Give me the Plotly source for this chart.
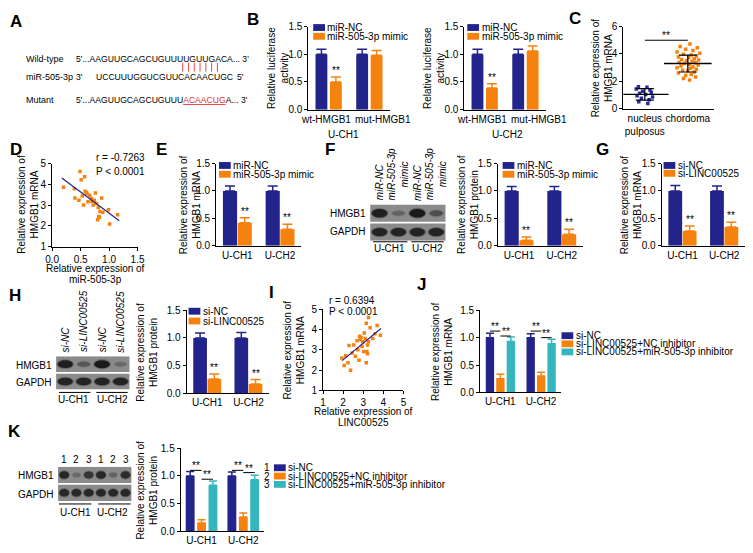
import plotly.graph_objects as go

W, H = 753, 553
def PX(x): return x / W
def PY(y): return 1 - y / H

FONT = "Liberation Sans, Arial, sans-serif"
NAVY = "#23238c"
ORANGE = "#f6820e"
CYAN = "#35b6bf"
NPBLUE = "#2a2aa0"

# ---------------- data ----------------
mir_names = ["miR-NC", "miR-505-3p mimic"]
si_names = ["si-NC", "si-LINC00525"]
rescue_names = ["si-NC", "si-LINC00525+NC inhibitor", "si-LINC00525+miR-505-3p inhibitor"]
cell_cats = ["U-CH1", "U-CH2"]

b_cats = ["wt-HMGB1", "mut-HMGB1"]
b1_nc = [1.00, 1.00]; b1_nc_err = [0.09, 0.09]
b1_mimic = [0.50, 0.98]; b1_mimic_err = [0.09, 0.09]
b2_nc = [1.00, 1.00]; b2_nc_err = [0.09, 0.09]
b2_mimic = [0.39, 1.06]; b2_mimic_err = [0.08, 0.09]

c_cats = ["nucleus<br>pulposus", "chordoma"]
c_np = [1.60, 1.56, 1.44, 1.37, 1.28, 1.20, 1.13, 1.04, 0.94, 0.85, 0.76, 0.66, 0.50, 0.38]
c_np_jit = [-0.15, 0.05, -0.20, 0.12, -0.05, 0.15, -0.12, 0.02, -0.18, 0.18, -0.08, 0.10, -0.14, 0.07]
c_ch = [4.72, 4.55, 4.45, 4.35, 4.25, 4.15, 4.05, 3.98, 3.92, 3.85, 3.78, 3.72, 3.65, 3.60, 3.55, 3.50,
        3.45, 3.40, 3.35, 3.30, 3.25, 3.20, 3.12, 3.05, 3.00, 2.95, 2.88, 2.80, 2.75, 2.68, 2.60, 2.50,
        2.42, 2.32, 2.20, 2.10]
c_ch_jit = [0.05, -0.18, 0.22, -0.05, 0.12, -0.25, 0.28, -0.10, 0.08, 0.20, -0.22, 0.02, 0.15, -0.14, 0.25, -0.03,
            0.10, -0.20, 0.18, -0.08, 0.03, 0.24, -0.16, 0.12, -0.25, 0.06, 0.20, -0.12, 0.00, 0.15, -0.22, 0.08,
            -0.05, 0.18, -0.10, 0.04]
c_mean = [1.05, 3.30]
c_sd = [0.42, 0.62]

d_x = [0.20, 0.49, 0.57, 0.51, 0.40, 0.39, 0.47, 0.55, 0.58, 0.61, 0.60, 0.66, 0.69, 0.70, 0.76, 0.74,
       0.72, 0.78, 0.81, 0.87, 0.84, 0.89, 0.82, 0.80, 0.83, 0.99, 1.01, 1.15, 0.63, 0.53]
d_y = [3.86, 4.61, 4.36, 4.22, 3.34, 3.78, 3.23, 3.00, 3.66, 3.55, 3.60, 3.47, 3.31, 3.19, 3.58, 3.23,
       3.00, 3.08, 2.88, 3.34, 2.69, 2.66, 2.45, 2.30, 2.41, 2.77, 2.09, 2.53, 3.16, 3.44]
d_fit_x = [0.17, 1.18]
d_fit_y = [4.30, 2.25]

e_nc = [1.00, 1.00]; e_nc_err = [0.09, 0.09]
e_mimic = [0.42, 0.30]; e_mimic_err = [0.09, 0.09]

f_lanes = ["miR-NC", "miR-505-3p<br>mimic", "miR-NC", "miR-505-3p<br>mimic"]
f_hmgb1 = [0.95, 0.30, 1.00, 0.45]
f_gapdh = [0.90, 0.90, 0.90, 0.90]
f_nc = [1.00, 1.00]; f_nc_err = [0.08, 0.08]
f_mimic = [0.10, 0.21]; f_mimic_err = [0.06, 0.09]

g_nc = [1.00, 1.00]; g_nc_err = [0.10, 0.09]
g_si = [0.27, 0.34]; g_si_err = [0.09, 0.09]

h_lanes = ["si-NC", "si-LINC00525", "si-NC", "si-LINC00525"]
h_hmgb1 = [0.95, 0.40, 1.00, 0.25]
h_gapdh = [0.90, 0.90, 0.90, 0.90]
h_nc = [1.00, 1.00]; h_nc_err = [0.09, 0.10]
h_si = [0.26, 0.17]; h_si_err = [0.09, 0.08]

i_x = [1.94, 2.13, 2.05, 2.24, 2.37, 2.29, 2.45, 2.53, 2.61, 2.69, 2.73, 2.82, 2.79, 2.89, 2.94, 2.98,
       3.05, 3.02, 3.10, 3.15, 3.18, 3.21, 3.21, 3.15, 3.26, 3.34, 3.47, 3.58, 3.69, 3.85, 3.26, 2.85]
i_y = [2.60, 2.71, 2.23, 2.36, 2.00, 3.22, 2.84, 3.24, 2.68, 3.45, 3.00, 3.67, 2.49, 3.61, 3.16, 3.40,
       3.83, 2.92, 3.56, 2.36, 2.92, 2.81, 3.24, 4.31, 4.60, 4.09, 3.56, 3.80, 4.20, 3.72, 3.40, 3.50]
i_fit_x = [1.95, 3.88]
i_fit_y = [2.47, 4.05]

j_nc = [1.00, 1.00]; j_nc_err = [0.08, 0.07]
j_nci = [0.25, 0.30]; j_nci_err = [0.08, 0.07]
j_mir = [0.93, 0.89]; j_mir_err = [0.08, 0.08]
j_sig = [(0, 0, 1, 1.12), (0, 1, 2, 1.03), (1, 0, 1, 1.12), (1, 1, 2, 1.00)]

k_lanes = ["1", "2", "3", "1", "2", "3"]
k_hmgb1 = [0.85, 0.25, 0.70, 0.85, 0.30, 0.80]
k_gapdh = [0.85, 0.85, 0.85, 0.85, 0.85, 0.85]
k_nc = [1.00, 1.00]; k_nc_err = [0.08, 0.07]
k_nci = [0.15, 0.26]; k_nci_err = [0.06, 0.07]
k_mir = [0.83, 0.93]; k_mir_err = [0.08, 0.08]
k_sig = [(0, 0, 1, 1.10), (0, 1, 2, 0.94), (1, 0, 1, 1.10), (1, 1, 2, 1.06)]

# ---------------- helpers ----------------
fig = go.Figure()
layout = {}
annotations = []
shapes = []
counter = [0]

def text(x, y, t, size=10, xa="center", ya="middle", angle=0, color="#000", bold=False, italic=False):
    if bold:
        t = "<b>" + t + "</b>"
    if italic:
        t = "<i>" + t + "</i>"
    annotations.append(dict(x=PX(x), y=PY(y), xref="paper", yref="paper", text=t, showarrow=False,
                            xanchor=xa, yanchor=ya, textangle=angle,
                            font=dict(family=FONT, size=size, color=color)))

def paper_line(x0, y0, x1, y1, color="#000", width=1):
    shapes.append(dict(type="line", xref="paper", yref="paper", x0=PX(x0), y0=PY(y0), x1=PX(x1), y1=PY(y1),
                       line=dict(color=color, width=width)))

def axes(x0, x1, ytop, ybot, xrange, yrange, xkw=None, ykw=None, visible=True):
    counter[0] += 1
    n = counter[0]
    sx = "" if n == 1 else str(n)
    base = dict(showgrid=False, zeroline=False, showline=True, linecolor="#000", linewidth=1,
                tickfont=dict(family=FONT, size=10, color="#000"), ticks="outside", ticklen=3,
                tickcolor="#000", tickwidth=1, tickangle=0)
    xa = dict(base, domain=[PX(x0), PX(x1)], range=xrange, anchor="y" + sx)
    ya = dict(base, domain=[PY(ybot), PY(ytop)], range=yrange, anchor="x" + sx)
    if xkw: xa.update(xkw)
    if ykw: ya.update(ykw)
    if not visible:
        xa.update(visible=False); ya.update(visible=False)
    layout["xaxis" + sx] = xa
    layout["yaxis" + sx] = ya
    return "x" + sx, "y" + sx

def bar_panel(x0, x1, ytop, ybot, cats, series, gap, groupgap, errw, stars=(), sig=(), show_cats=True):
    ncat = len(cats)
    xr, yr = axes(x0, x1, ytop, ybot, [-0.5, ncat - 0.5], [0, 1.5],
                  xkw=dict(tickvals=list(range(ncat)), ticktext=cats if show_cats else [""] * ncat,
                           ticks="", ticklen=0),
                  ykw=dict(tickvals=[0, 0.5, 1.0, 1.5], ticktext=["0.0", "0.5", "1.0", "1.5"]))
    n = len(series)
    s = (1 - gap) / n
    w = s * (1 - groupgap)
    centers = []
    for k, (vals, errs, color) in enumerate(series):
        off = -(1 - gap) / 2 + k * s + (s - w) / 2
        centers.append(off + w / 2)
        fig.add_trace(go.Bar(x=list(range(ncat)), y=vals, width=w, offset=off, marker=dict(color=color, line=dict(width=0)),
                             error_y=dict(type="data", array=errs, arrayminus=[0] * ncat, symmetric=False,
                                          color=color, thickness=1.5, width=errw),
                             xaxis=xr, yaxis=yr, showlegend=False, hoverinfo="skip"))
    for (ci, k) in stars:
        vals, errs, _ = series[k]
        annotations.append(dict(x=ci + centers[k], y=vals[ci] + errs[ci], xref=xr, yref=yr, text="**",
                                showarrow=False, yanchor="bottom", yshift=-1,
                                font=dict(family=FONT, size=10, color="#000")))
    for (ci, a, b, lev) in sig:
        fig.add_trace(go.Scatter(x=[ci + centers[a], ci + centers[b]], y=[lev, lev], mode="lines",
                                 line=dict(color="#000", width=1), xaxis=xr, yaxis=yr, showlegend=False,
                                 hoverinfo="skip"))
        annotations.append(dict(x=ci + (centers[a] + centers[b]) / 2, y=lev, xref=xr, yref=yr, text="**",
                                showarrow=False, yanchor="bottom", yshift=-3,
                                font=dict(family=FONT, size=10, color="#000")))
    return xr, yr

def legend(xl, ys, names, colors, numbers=None, sw=12, sh=7):
    for i, (nm, col) in enumerate(zip(names, colors)):
        y = ys[i]
        shapes.append(dict(type="rect", xref="paper", yref="paper", x0=PX(xl), x1=PX(xl + sw),
                           y0=PY(y + sh / 2), y1=PY(y - sh / 2), fillcolor=col, line=dict(width=0)))
        text(xl + sw + 0.5, y, nm, size=10, xa="left")
        if numbers:
            text(xl - 2, y, numbers[i], size=10, xa="right")

def blot(x0, x1, ytop, ybot, hm, gp):
    n = len(hm)
    xr, yr = axes(x0, x1, ytop, ybot, [0.5, n + 0.5], [0, 2], visible=False)
    for (lo, hi) in [(0, 0.95), (1.05, 2.0)]:
        shapes.append(dict(type="rect", xref=xr, yref=yr, x0=0.5, x1=n + 0.5, y0=lo, y1=hi,
                           fillcolor="#8b8b8b", line=dict(width=0), layer="below"))
    for row, vals in ((1.52, hm), (0.48, gp)):
        for i, v in enumerate(vals):
            c = i + 1
            hw = 0.30 + 0.12 * v
            hh = 0.10 + 0.14 * v
            shapes.append(dict(type="circle", xref=xr, yref=yr, x0=c - hw - 0.06, x1=c + hw + 0.06,
                               y0=row - hh - 0.06, y1=row + hh + 0.06,
                               fillcolor="rgba(40,40,40,%.2f)" % (0.35 * v), line=dict(width=0)))
            shapes.append(dict(type="circle", xref=xr, yref=yr, x0=c - hw, x1=c + hw, y0=row - hh, y1=row + hh,
                               fillcolor="rgba(18,18,18,%.2f)" % (0.9 * v), line=dict(width=0)))
    return xr, yr

# ---------------- panel A ----------------
text(9, 16, "A", size=17, bold=True)
text(17, 54, "Wild-type", size=9, xa="left")
text(17, 73, "miR-505-3p", size=9, xa="left")
text(17, 96, "Mutant", size=9, xa="left")
text(68, 54, "5'...AAGUUGCAGCUGUUUUGUUGACA... 3'", size=8.6, xa="left")
text(68, 73, "3'", size=8.6, xa="left")
text(89, 73, "UCCUUUGGUCGUUCACAACUGC", size=8.6, xa="left")
text(232, 73, "5'", size=8.6, xa="left")
text(68, 96, "5'...AAGUUGCAGCUGUUU<span style='color:#e8312b;text-decoration:underline'>ACAACUG</span>A... 3'",
     size=8.6, xa="left")
for i in range(7):
    paper_line(179 + 5.9 * i, 58, 179 + 5.9 * i, 67, color="#ee4444", width=1)

# ---------------- panel B ----------------
text(251, 14, "B", size=17, bold=True)
bar_panel(307, 390, 21, 106, b_cats, [(b1_nc, b1_nc_err, NAVY), (b1_mimic, b1_mimic_err, ORANGE)],
          0.29, 0.18, 5, stars=[(0, 1)], show_cats=False)
legend(312, [22, 31], mir_names, [NAVY, ORANGE])
text(325, 116, b_cats[0])
text(383, 116, b_cats[1])
text(343, 131, "U-CH1")
text(276, 63.5, "Relative luciferase<br>activity", angle=-90)

bar_panel(466, 549, 21, 106, b_cats, [(b2_nc, b2_nc_err, NAVY), (b2_mimic, b2_mimic_err, ORANGE)],
          0.29, 0.18, 5, stars=[(0, 1)], show_cats=False)
legend(469, [22, 31], mir_names, [NAVY, ORANGE])
text(484, 116, b_cats[0])
text(542, 116, b_cats[1])
text(510, 131, "U-CH2")
text(435, 63.5, "Relative luciferase<br>activity", angle=-90)

# ---------------- panel C ----------------
text(579, 13, "C", size=17, bold=True)
cx, cy = axes(628, 720, 21, 105, [-0.5, 1.6], [0, 6],
              xkw=dict(tickvals=[0, 1], ticktext=c_cats, ticks="", ticklen=0),
              ykw=dict(tickvals=[0, 2, 4, 6]))
fig.add_trace(go.Scatter(x=[0 + j for j in c_np_jit], y=c_np, mode="markers",
                         marker=dict(symbol="square", size=3.5, color=NPBLUE), xaxis=cx, yaxis=cy, showlegend=False))
fig.add_trace(go.Scatter(x=[1 + j for j in c_ch_jit], y=c_ch, mode="markers",
                         marker=dict(symbol="square", size=3.5, color=ORANGE), xaxis=cx, yaxis=cy, showlegend=False))
fig.add_trace(go.Scatter(x=[0, 1], y=c_mean, mode="markers",
                         marker=dict(symbol="line-ew", size=34, line=dict(color="#000", width=1.3)),
                         error_y=dict(type="data", array=c_sd, color="#000", thickness=1.2, width=9),
                         xaxis=cx, yaxis=cy, showlegend=False))
fig.add_trace(go.Scatter(x=[0, 1], y=[5.0, 5.0], mode="lines", line=dict(color="#000", width=1),
                         xaxis=cx, yaxis=cy, showlegend=False))
annotations.append(dict(x=0.5, y=5.0, xref=cx, yref=cy, text="**", showarrow=False, yanchor="bottom", yshift=-3,
                        font=dict(family=FONT, size=10)))
text(606, 63, "Relative expression of<br>HMGB1 mRNA", angle=-90)

# ---------------- panel D ----------------
text(9, 147, "D", size=17, bold=True)
dx, dy = axes(46, 133, 161, 246, [0, 1.5], [1, 5],
              xkw=dict(tickvals=[0, 0.5, 1.0, 1.5], ticktext=["0.0", "0.5", "1.0", "1.5"]),
              ykw=dict(tickvals=[1, 2, 3, 4, 5]))
fig.add_trace(go.Scatter(x=d_x, y=d_y, mode="markers", marker=dict(symbol="square", size=3.5, color=ORANGE),
                         xaxis=dx, yaxis=dy, showlegend=False))
fig.add_trace(go.Scatter(x=d_fit_x, y=d_fit_y, mode="lines", line=dict(color=NAVY, width=1.2),
                         xaxis=dx, yaxis=dy, showlegend=False))
text(143, 155, "r = -0.7263", xa="right")
text(143, 169, "P < 0.0001", xa="right")
text(90, 268.5, "Relative expression of")
text(90, 280, "miR-505-3p")
text(20.5, 203, "Relative expression of<br>HMGB1 mRNA", angle=-90)

# ---------------- panel E ----------------
text(157, 147, "E", size=17, bold=True)
bar_panel(213, 300, 161, 245, cell_cats, [(e_nc, e_nc_err, NAVY), (e_mimic, e_mimic_err, ORANGE)],
          0.31, 0.04, 5, stars=[(0, 1), (1, 1)])
legend(216, [163, 172], mir_names, [NAVY, ORANGE])
text(186, 203, "Relative expression of<br>HMGB1 mRNA", angle=-90)

# ---------------- panel F ----------------
text(329, 147, "F", size=17, bold=True)
bx, by = blot(370, 447, 203, 240, f_hmgb1, f_gapdh)
text(368, 212, "HMGB1", xa="right")
text(368, 231, "GAPDH", xa="right")
for i, lab in enumerate(f_lanes):
    annotations.append(dict(x=i + 1, y=2.0, xref=bx, yref=by, text="<i>" + lab + "</i>", showarrow=False,
                            textangle=-90, xanchor="center", yanchor="bottom", yshift=2,
                            font=dict(family=FONT, size=10)))
paper_line(373, 241, 408, 241)
paper_line(412, 241, 445, 241)
text(390, 248, "U-CH1")
text(428, 248, "U-CH2")
bar_panel(500, 587, 161, 245, cell_cats, [(f_nc, f_nc_err, NAVY), (f_mimic, f_mimic_err, ORANGE)],
          0.31, 0.04, 5, stars=[(0, 1), (1, 1)])
legend(505, [163, 172], mir_names, [NAVY, ORANGE])
text(469, 203, "Relative expression of<br>HMGB1 protein", angle=-90)

# ---------------- panel G ----------------
text(607, 147, "G", size=17, bold=True)
bar_panel(667, 752, 161, 245, cell_cats, [(g_nc, g_nc_err, NAVY), (g_si, g_si_err, ORANGE)],
          0.31, 0.04, 5, stars=[(0, 1), (1, 1)])
legend(669, [163, 171], si_names, [NAVY, ORANGE])
text(635.5, 203, "Relative expression of<br>HMGB1 mRNA", angle=-90)

# ---------------- panel H ----------------
text(8, 296, "H", size=17, bold=True)
hx, hy = blot(50, 125, 358, 392, h_hmgb1, h_gapdh)
text(48, 367, "HMGB1", xa="right")
text(48, 385, "GAPDH", xa="right")
for i, lab in enumerate(h_lanes):
    annotations.append(dict(x=i + 1, y=2.0, xref=hx, yref=hy, text="<i>" + lab + "</i>", showarrow=False,
                            textangle=-90, xanchor="center", yanchor="bottom", yshift=2,
                            font=dict(family=FONT, size=10)))
paper_line(53, 395, 85, 395)
paper_line(91, 395, 123, 395)
text(68, 402, "U-CH1")
text(107, 402, "U-CH2")
bar_panel(183, 267, 311, 396, cell_cats, [(h_nc, h_nc_err, NAVY), (h_si, h_si_err, ORANGE)],
          0.31, 0.04, 5, stars=[(0, 1), (1, 1)])
legend(185, [312, 322], si_names, [NAVY, ORANGE])
text(142.5, 353.5, "Relative expression of<br>HMGB1 protein", angle=-90)

# ---------------- panel I ----------------
text(270, 293, "I", size=17, bold=True)
ix, iy = axes(322, 404, 310, 393, [1, 5], [1, 5],
              xkw=dict(tickvals=[1, 2, 3, 4, 5]), ykw=dict(tickvals=[1, 2, 3, 4, 5]))
fig.add_trace(go.Scatter(x=i_x, y=i_y, mode="markers", marker=dict(symbol="square", size=3.5, color=ORANGE),
                         xaxis=ix, yaxis=iy, showlegend=False))
fig.add_trace(go.Scatter(x=i_fit_x, y=i_fit_y, mode="lines", line=dict(color=NAVY, width=1.2),
                         xaxis=ix, yaxis=iy, showlegend=False))
text(326, 301, "r = 0.6394", xa="left")
text(326, 312, "P < 0.0001", xa="left")
text(363, 414, "Relative expression of")
text(363, 425.5, "LINC00525")
text(292, 351.5, "Relative expression of<br>HMGB1 mRNA", angle=-90)

# ---------------- panel J ----------------
text(422, 285, "J", size=17, bold=True)
bar_panel(482, 565, 311, 395, cell_cats,
          [(j_nc, j_nc_err, NAVY), (j_nci, j_nci_err, ORANGE), (j_mir, j_mir_err, CYAN)],
          0.23, 0.2, 4, sig=j_sig)
legend(565, [337, 345.3, 353.6], rescue_names, [NAVY, ORANGE, CYAN])
text(444, 353, "Relative expression of<br>HMGB1 mRNA", angle=-90)

# ---------------- panel K ----------------
text(8, 435, "K", size=17, bold=True)
kx, ky = blot(52, 127, 471, 506, k_hmgb1, k_gapdh)
text(50, 480, "HMGB1", xa="right")
text(50, 499, "GAPDH", xa="right")
for i, lab in enumerate(k_lanes):
    annotations.append(dict(x=i + 1, y=2.0, xref=kx, yref=ky, text=lab, showarrow=False,
                            xanchor="center", yanchor="bottom", yshift=0,
                            font=dict(family=FONT, size=10)))
paper_line(53, 509, 86, 509)
paper_line(93, 509, 126, 509)
text(70, 518, "U-CH1")
text(108, 518, "U-CH2")
bar_panel(177, 262, 452, 537, cell_cats,
          [(k_nc, k_nc_err, NAVY), (k_nci, k_nci_err, ORANGE), (k_mir, k_mir_err, CYAN)],
          0.18, 0.22, 4, sig=k_sig)
legend(272, [472, 480.5, 489], rescue_names, [NAVY, ORANGE, CYAN], numbers=["1", "2", "3"])
text(142.5, 494.5, "Relative expression of<br>HMGB1 protein", angle=-90)

fig.update_layout(width=W, height=H, autosize=False, margin=dict(l=0, r=0, t=0, b=0),
                  paper_bgcolor="white", plot_bgcolor="white", barmode="overlay", showlegend=False,
                  font=dict(family=FONT, size=10, color="#000"),
                  annotations=annotations, shapes=shapes, **layout)
fig.write_html("out.html", config={"displayModeBar": False, "staticPlot": True},
               post_script="document.body.style.margin='0';document.body.style.padding='0';"
                           "document.documentElement.style.overflow='hidden';")
